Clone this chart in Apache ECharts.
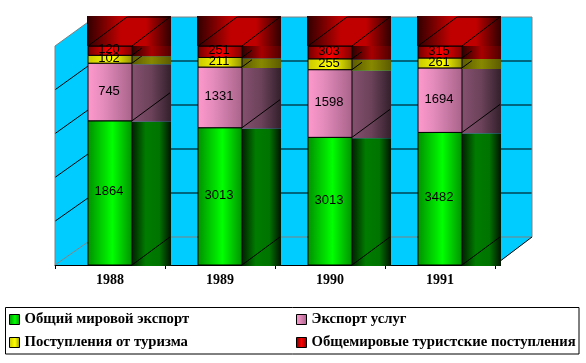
<!DOCTYPE html>
<html>
<head>
<meta charset="utf-8">
<style>
  html, body { margin: 0; padding: 0; background: #fff; }
  #chart { width: 586px; height: 363px; }
</style>
</head>
<body>
<div id="chart"></div>
<script src="https://cdn.jsdelivr.net/npm/echarts@6/dist/echarts.min.js"></script>
<script>
const years = ['1988', '1989', '1990', '1991'];
const exportTotal = [1864, 3013, 3013, 3482];
const exportServices = [745, 1331, 1598, 1694];
const tourismReceipts = [102, 211, 255, 261];
const worldReceipts = [120, 251, 303, 315];
const yTicks = [0, 20, 40, 60, 80, 100];

const seriesNames = [
  'Общий мировой экспорт',
  'Экспорт услуг',
  'Поступления от туризма',
  'Общемировые туристские поступления'
];
const stacks = [exportTotal, exportServices, tourismReceipts, worldReceipts];

const grad = (stops) => ({
  type: 'linear', x: 0, y: 0, x2: 1, y2: 0,
  colorStops: stops.map(s => ({ offset: s[0], color: s[1] }))
});

const frontFill = [
  grad([[0, '#009000'], [0.55, '#00ff00'], [1, '#009000']]),
  grad([[0, '#ff99cc'], [0.35, '#e48cbc'], [1, '#a8638a']]),
  grad([[0, '#c8c800'], [0.55, '#ffff00'], [1, '#909000']]),
  grad([[0, '#700000'], [0.5, '#ff0000'], [1, '#800000']])
];
const sideFill = [
  grad([[0, '#002000'], [0.35, '#007c00'], [0.7, '#007400'], [1, '#001400']]),
  grad([[0, '#85506f'], [0.5, '#6b4259'], [1, '#33202c']]),
  grad([[0, '#5c5c00'], [0.5, '#888800'], [1, '#5c5c00']]),
  grad([[0, '#300000'], [0.5, '#a80000'], [1, '#500000']])
];
const capFill = grad([[0, '#300000'], [0.4, '#c00000'], [0.7, '#c00000'], [1, '#300000']]);

const depthX = 38;
const depthY = -28;

function pct(cat, upTo) {
  let total = 0, sum = 0;
  stacks.forEach((s, k) => {
    total += s[cat];
    if (k <= upTo) sum += s[cat];
  });
  return sum / total * 100;
}

function line(x1, y1, x2, y2, color) {
  return {
    type: 'line',
    shape: { x1, y1, x2, y2 },
    style: { stroke: color || '#000', lineWidth: 1 },
    silent: true
  };
}

function poly(points, fill) {
  return { type: 'polygon', shape: { points }, style: { fill }, silent: true };
}

// walls and floor, placed from the front plane through the axes
function renderBackdrop(params, api) {
  const fl = api.coord([0, 0]);
  const band = api.size([1, 0])[0];
  const x0 = fl[0] - band / 2;
  const x1 = x0 + band * years.length;
  const yTop = api.coord([0, 100])[1];
  const yBot = fl[1];
  const bx = x0 + 40;
  const rx = 532;
  const cy = '#00ccff';
  const kids = [
    poly([[x0, yTop], [bx, yTop - 29], [bx, yBot - 28], [x0, yBot]], cy),
    poly([[bx, yTop - 29], [rx, yTop - 29], [rx, yBot - 28], [bx, yBot - 28]], cy),
    poly([[x0, yBot], [bx, yBot - 28], [rx, yBot - 28], [x1, yBot]], cy)
  ];
  yTicks.forEach(t => {
    const y = api.coord([0, t])[1];
    const dy = -28 - t / 100;
    const c = (t === 0 || t === 100) ? '#808080' : '#000';
    kids.push(line(x0, y, bx, y + dy, c));
    kids.push(line(bx, y + dy, rx, y + dy, c));
  });
  kids.push(line(x0, yTop, x0, yBot, '#808080'));
  kids.push(line(rx, yTop - 29, rx, yBot - 28, '#808080'));
  kids.push(line(rx, yBot - 28, x1, yBot, '#000'));
  return { type: 'group', children: kids };
}

function renderStack(params, api) {
  const k = params.seriesIndex - 1;
  const cat = api.value(0);
  const band = api.size([1, 0])[0];
  const w = band * 0.4;
  const cx = api.coord([cat, 0])[0];
  const left = cx - w / 2;
  const right = cx + w / 2;
  const top = api.coord([cat, pct(cat, k)])[1];
  const bot = api.coord([cat, k === 0 ? 0 : pct(cat, k - 1)])[1];
  const sideTop = k === 3 ? top : top + 1;
  const kids = [
    {
      type: 'rect',
      shape: { x: right, y: sideTop, width: depthX + 1, height: bot - sideTop + 1 },
      style: { fill: sideFill[k] },
      silent: true
    },
    {
      type: 'rect',
      shape: { x: left, y: top, width: w, height: bot - top },
      style: { fill: frontFill[k], stroke: '#000', lineWidth: 1 },
      silent: true
    }
  ];
  // edge running back from the top right corner of the segment
  const edge = k >= 2 ? 10 : depthX;
  kids.push(line(right, bot, right + edge, bot + depthY * edge / depthX));
  if (k === 3) {
    // top cap of the column
    kids.push({
      type: 'rect',
      shape: { x: left - 1, y: top - 30, width: w + depthX + 2, height: 30 },
      style: { fill: capFill },
      silent: true
    });
    kids.push({
      type: 'polygon',
      shape: { points: [[left, top], [left + depthX + 1, top + depthY - 1], [right + depthX, top + depthY - 1], [right, top]] },
      style: { fill: 'none', stroke: '#000', lineWidth: 1 },
      silent: true
    });
  }
  kids.push({
    type: 'text',
    z2: 100,
    style: {
      text: String(api.value(1)),
      x: cx - 1,
      y: (top + bot) / 2 - 1,
      align: 'center',
      verticalAlign: 'middle',
      font: '13px "Liberation Sans Narrow", "Liberation Sans"',
      fill: '#000'
    },
    silent: true
  });
  return { type: 'group', children: kids };
}

const legendPos = [[9, 312], [296, 312], [9, 335], [296, 335]];

const chart = echarts.init(document.getElementById('chart'), null, { renderer: 'canvas' });

chart.setOption({
  animation: false,
  backgroundColor: '#fff',
  grid: { left: 55, right: 91, top: 46, bottom: 98 },
  xAxis: {
    type: 'category',
    data: years,
    axisLine: { lineStyle: { color: '#000', width: 1 } },
    axisTick: { show: true, length: 4, lineStyle: { color: '#000' } },
    axisLabel: {
      margin: 8,
      color: '#000',
      fontFamily: 'Liberation Serif',
      fontWeight: 'bold',
      fontSize: 14
    },
    z: 1
  },
  yAxis: {
    type: 'value',
    min: 0,
    max: 100,
    interval: 20,
    show: false
  },
  legend: seriesNames.map((name, i) => ({
    data: [{ name, icon: 'rect', itemStyle: { color: frontFill[i], borderColor: '#000', borderWidth: 1 } }],
    left: legendPos[i][0],
    top: legendPos[i][1],
    padding: 0,
    itemWidth: 10,
    itemHeight: 10,
    selectedMode: false,
    textStyle: {
      fontFamily: 'Liberation Serif',
      fontWeight: 'bold',
      fontSize: 14.7,
      color: '#000'
    }
  })),
  graphic: [{
    type: 'rect',
    shape: { x: 5.5, y: 307.5, width: 573.5, height: 46.5 },
    style: { fill: 'none', stroke: '#000', lineWidth: 1 },
    silent: true
  }],
  series: [
    {
      type: 'custom',
      name: 'backdrop',
      silent: true,
      clip: false,
      z: 0,
      renderItem: renderBackdrop,
      data: [[0, 0]]
    }
  ].concat(stacks.map((vals, k) => ({
    type: 'custom',
    name: seriesNames[k],
    silent: true,
    clip: false,
    z: 2,
    itemStyle: { color: '#888' },
    renderItem: renderStack,
    encode: { x: 0, y: 1 },
    data: vals.map((v, i) => [i, v])
  })))
});
</script>
</body>
</html>
